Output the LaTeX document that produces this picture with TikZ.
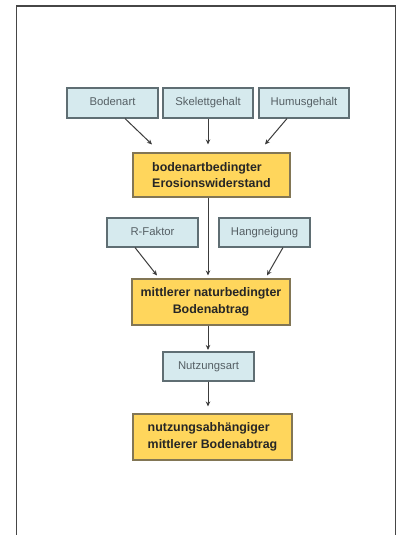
\documentclass[tikz,border=0pt]{standalone}
\usepackage{fontspec}
\setmainfont{Liberation Sans}
\usetikzlibrary{arrows.meta}
\definecolor{bluefill}{RGB}{214,234,238}
\definecolor{blueline}{RGB}{95,110,115}
\definecolor{bluetext}{RGB}{85,95,100}
\definecolor{yelfill}{RGB}{255,214,92}
\definecolor{yelline}{RGB}{130,118,85}
\definecolor{arrowcol}{RGB}{60,60,60}
\definecolor{framecol}{RGB}{70,70,70}
\tikzset{
  factor/.style={draw=blueline, fill=bluefill, line width=1.1pt, text=bluetext,
    inner sep=0pt, text height=8.3pt, text depth=2.4pt, font=\fontsize{11.3}{13}\selectfont},
  result/.style={draw=yelline, fill=yelfill, line width=1.1pt, text=black!85,
    inner sep=0pt, font=\bfseries\fontsize{12.4}{16.5}\selectfont},
  flow/.style={draw=arrowcol, line width=1pt, -{Stealth[length=5pt,width=4.5pt]}}
}
\begin{document}
\begin{tikzpicture}[x=1pt,y=-1pt]
\useasboundingbox (0,0) rectangle (401,535);
% frame
\draw[framecol, line width=1.6pt] (16.5,536) -- (16.5,6) -- (395.5,6) -- (395.5,536);
% factor boxes
\node[factor, minimum width=91pt, minimum height=30pt] (bodenart) at (112.5,103) {Bodenart};
\node[factor, minimum width=90pt, minimum height=30pt] (skelett) at (208,103) {Skelettgehalt};
\node[factor, minimum width=90pt, minimum height=30pt] (humus) at (304,103) {Humusgehalt};
\node[result, minimum width=157pt, minimum height=44pt, align=left] (ero) at (211.5,175) {bodenartbedingter\\Erosionswiderstand};
\node[factor, minimum width=91pt, minimum height=29pt] (rfak) at (152.5,232.5) {R-Faktor};
\node[factor, minimum width=91pt, minimum height=29pt] (hang) at (264.5,232.5) {Hangneigung};
\node[result, minimum width=158pt, minimum height=46pt, align=center] (nat) at (211,302) {mittlerer naturbedingter\\Bodenabtrag};
\node[factor, minimum width=91pt, minimum height=29pt] (nutz) at (208.5,366.5) {Nutzungsart};
\node[result, minimum width=159pt, minimum height=46pt, align=left] (abh) at (212.5,437) {nutzungsabhängiger\\mittlerer Bodenabtrag};
% connectors
\draw[flow] ([xshift=12.5pt]bodenart.south) -- ([xshift=-59.5pt,yshift=8pt]ero.north);
\draw[flow] (skelett.south) -- ([yshift=8pt]skelett.south |- ero.north);
\draw[flow] ([xshift=-17pt]humus.south) -- ([xshift=53.5pt,yshift=8pt]ero.north);
\draw[flow] ([xshift=-3.5pt]ero.south) -- ([xshift=-3pt,yshift=3pt]nat.north);
\draw[flow] ([xshift=-17.5pt]rfak.south) -- ([xshift=-54pt,yshift=3pt]nat.north);
\draw[flow] ([xshift=18.5pt]hang.south) -- ([xshift=56pt,yshift=3pt]nat.north);
\draw[flow] ([xshift=-3pt]nat.south) -- ([xshift=-0.5pt,yshift=1.5pt]nutz.north);
\draw[flow] ([xshift=-0.5pt]nutz.south) -- ([xshift=-0.5pt,yshift=7pt]nutz.south |- abh.north);
\end{tikzpicture}
\end{document}
